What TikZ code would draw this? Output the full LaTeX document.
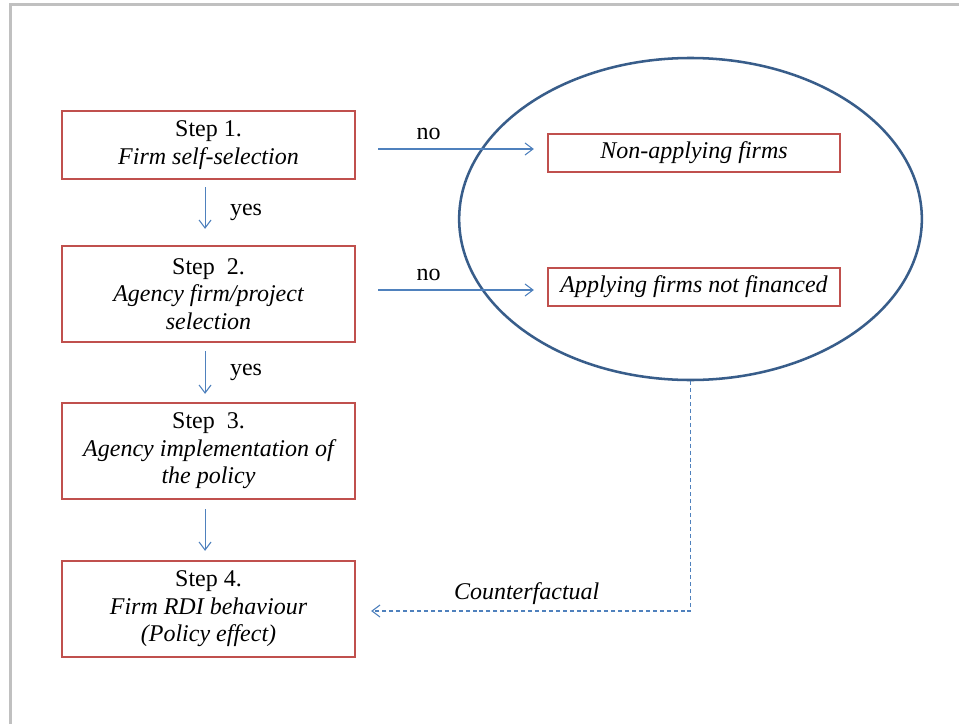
\documentclass[tikz,border=0pt]{standalone}
\usepackage{fontspec}
\setmainfont{Liberation Serif}
\usepackage{xcolor}
\usetikzlibrary{arrows.meta,shapes.geometric}
\definecolor{stepred}{HTML}{C0504D}
\definecolor{flowblue}{HTML}{4F81BD}
\definecolor{ovalblue}{HTML}{385D8A}
\definecolor{framegray}{HTML}{C0C0C0}

\newcommand{\boxfont}{\fontsize{18}{20.7}\selectfont}

\tikzset{
  stepbox/.style={draw=stepred, line width=1.7pt, align=center, inner sep=0pt,
    minimum width=219.75pt, minimum height=72pt},
  groupbox/.style={draw=stepred, line width=1.7pt, inner sep=0pt,
    minimum width=219pt, minimum height=28.5pt, font=\boxfont\itshape},
  flow/.style={flowblue, line width=0.8pt, -{Straight Barb[length=6pt,width=9pt]}},
  counter/.style={flow, dash pattern=on 3pt off 2.2pt}
}

\begin{document}
\begin{tikzpicture}[x=0.75pt, y=-0.75pt, font=\boxfont]
  \useasboundingbox (0,0) rectangle (959,724);
  \fill[white] (0,0) rectangle (959,724);
  \draw[framegray, line width=2.25pt] (10,724) -- (10,5) -- (959,5);

  % steps
  \node[stepbox, minimum height=51pt] (s1) at (208.5,145)
    {Step 1.\\ \itshape Firm self-selection};
  \node[stepbox] (s2) at (208.5,294)
    {Step\ \ 2.\\ \itshape Agency firm/project\\ \itshape selection};
  \node[stepbox] (s3) at (208.5,451)
    {Step\ \ 3.\\ \itshape Agency implementation of\\ \itshape the policy};
  \node[stepbox] (s4) at (208.5,609)
    {Step 4.\\ \itshape Firm RDI behaviour\\ \itshape (Policy effect)};

  % control group
  \node[draw=ovalblue, line width=1.9pt, ellipse, inner sep=0pt,
    minimum width=347pt, minimum height=241.5pt] (oval) at (690.5,219) {};
  \node[groupbox] (na) at (694,153) {Non-applying firms};
  \node[groupbox] (nf) at (694,287) {Applying firms not financed};

  \draw[flow, shorten <=16.5pt, shorten >=9.75pt] ([yshift=-3pt]s1.east) -- ([yshift=-3pt]s1.east -| na.west)
    node[pos=0.38, above=3pt, text=black] {no};
  \draw[flow, shorten <=16.5pt, shorten >=9.75pt] ([yshift=3pt]s2.east) -- ([yshift=3pt]s2.east -| nf.west)
    node[pos=0.38, above=3pt, text=black] {no};

  \draw[flow, shorten <=5.25pt, shorten >=12pt] ([xshift=-2.6pt]s1.south) -- ([xshift=-2.6pt]s2.north)
    node[midway, right=15pt, text=black] {yes};
  \draw[flow, shorten <=6pt, shorten >=6pt] ([xshift=-2.6pt]s2.south) -- ([xshift=-2.6pt]s3.north)
    node[midway, right=15pt, text=black] {yes};
  \draw[flow, shorten <=6.75pt, shorten >=6.75pt] ([xshift=-2.6pt]s3.south) -- ([xshift=-2.6pt]s4.north);

  \draw[counter, shorten >=11.25pt] (oval.south) |- ([yshift=-1.5pt]s4.east)
    node[pos=0.745, above=1pt, text=black, font=\boxfont\itshape] {Counterfactual};
\end{tikzpicture}
\end{document}
